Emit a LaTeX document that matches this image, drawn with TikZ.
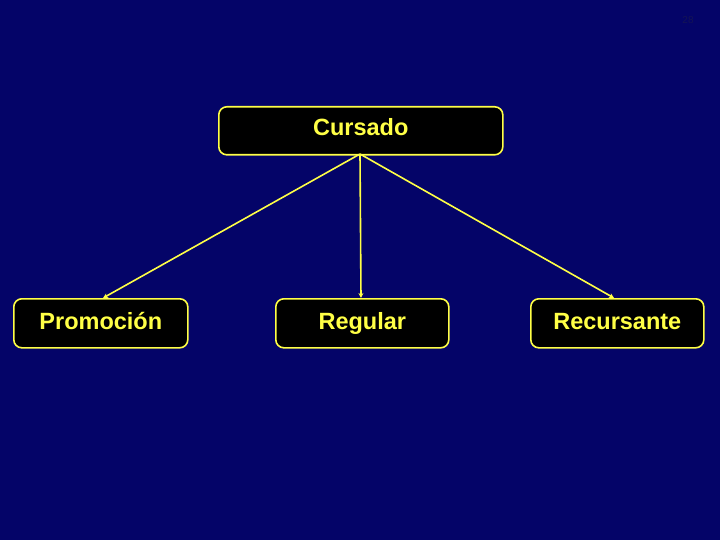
\documentclass[tikz,border=0pt]{standalone}
\usepackage{fontspec}
\setmainfont{Liberation Sans}
\usetikzlibrary{arrows.meta}
\definecolor{bgnavy}{RGB}{4,4,104}
\definecolor{yel}{RGB}{255,255,70}
\definecolor{pgnum}{RGB}{20,20,85}
\tikzset{
  box/.style={draw=yel, line width=1.6pt, fill=black, rounded corners=8pt, anchor=north west, inner sep=0pt},
  lbl/.style={text=yel, font=\fontsize{23.5}{26}\selectfont\bfseries, inner sep=0pt, anchor=base},
  conn/.style={draw=yel, line width=1.6pt, -{Stealth[length=5pt,width=5pt]}}
}
\begin{document}
\begin{tikzpicture}[x=1pt,y=-1pt]
\fill[bgnavy] (0,0) rectangle (720,540);
\useasboundingbox (0,0) rectangle (720,540);
\node[text=pgnum, font=\fontsize{10}{12}\selectfont] (pg) at (688,20) {28};
\node[box, minimum width=284pt, minimum height=48pt] (cur) at (218,106) {};
\node[box, minimum width=174pt, minimum height=49pt] (pro) at (13,298) {};
\node[box, minimum width=173pt, minimum height=49pt] (reg) at (275,298) {};
\node[box, minimum width=173pt, minimum height=49pt] (rec) at (530,298) {};
\node[lbl] (curt) at (cur.center |- 0,136) {Cursado};
\node[lbl] (prot) at (pro.center |- 0,329) {Promoción};
\node[lbl] (regt) at (reg.center |- 0,329) {Regular};
\node[lbl] (rect) at (rec.center |- 0,329) {Recursante};
\coordinate (top) at (360,154);
\coordinate (pe) at (103,298);
\coordinate (re) at (361,298);
\coordinate (ce) at (614,298);
\draw[conn] (top) -- (pe);
\draw[conn] (top) -- (re);
\draw[conn] (top) -- (ce);
\end{tikzpicture}
\end{document}
